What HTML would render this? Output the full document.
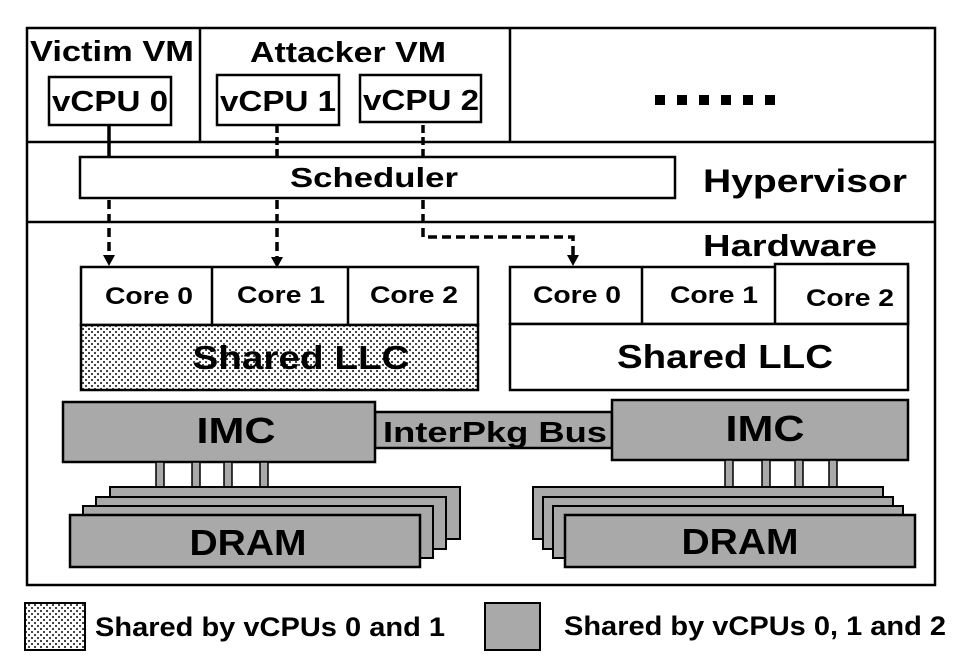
<!DOCTYPE html>
<html><head><meta charset="utf-8"><style>
html,body{margin:0;padding:0;background:#fff;}
svg{display:block}
text{font-family:"Liberation Sans",Arial,sans-serif;font-weight:bold;fill:#000}
</style></head><body>
<svg width="962" height="662" viewBox="0 0 962 662" xmlns="http://www.w3.org/2000/svg">
<defs>
<pattern id="dots" width="6" height="6" patternUnits="userSpaceOnUse">
<rect width="6" height="6" fill="#fff"/><circle cx="2" cy="2" r="1.1" fill="#333"/><circle cx="5" cy="5" r="1.1" fill="#333"/>
</pattern>
</defs>
<g stroke="#000" stroke-width="2.5" fill="none">
<rect x="27" y="28" width="908" height="557" fill="#fff"/>
<line x1="27" y1="142" x2="935" y2="142"/>
<line x1="27" y1="222" x2="935" y2="222"/>
<line x1="200" y1="28" x2="200" y2="142"/>
<line x1="510" y1="28" x2="510" y2="142"/>
<rect x="49" y="77" width="122" height="48" fill="#fff"/>
<rect x="217" y="75" width="122" height="50" fill="#fff"/>
<rect x="360" y="75" width="121" height="47" fill="#fff"/>
<line x1="109" y1="125" x2="109" y2="157" stroke-width="3.5"/>
<line x1="277" y1="125" x2="277" y2="157" stroke-dasharray="8,4" stroke-width="3.5"/>
<line x1="423" y1="125" x2="423" y2="157" stroke-dasharray="8,4" stroke-width="3.5"/>
<rect x="80" y="157" width="595" height="41" fill="#fff"/>
<path d="M109,200 V256" stroke-dasharray="9,5" stroke-width="3.5"/>
<path d="M277,200 V258" stroke-dasharray="9,5" stroke-width="3.5"/>
<path d="M423,200 V237 H573 V258" stroke-dasharray="9,5" stroke-width="3.5"/>
</g>
<g fill="#000">
<path d="M103,255 L115,255 L109,266 Z"/>
<path d="M271,257 L283,257 L277,268 Z"/>
<path d="M567,255 L579,255 L573,266 Z"/>
<rect x="655" y="95" width="10" height="10"/><rect x="677" y="95" width="10" height="10"/><rect x="699" y="95" width="10" height="10"/><rect x="721" y="95" width="10" height="10"/><rect x="743" y="95" width="10" height="10"/><rect x="765" y="95" width="10" height="10"/>
</g>
<g stroke="#000" stroke-width="2.5">
<rect x="81" y="267" width="397" height="58" fill="#fff"/>
<line x1="212" y1="267" x2="212" y2="325"/><line x1="348" y1="267" x2="348" y2="325"/>
<rect x="81" y="325" width="397" height="65" fill="url(#dots)"/>
<rect x="510" y="267" width="398" height="57" fill="#fff"/>
<line x1="642" y1="267" x2="642" y2="324"/>
<rect x="775" y="264" width="133" height="60" fill="#fff"/>
<rect x="510" y="324" width="398" height="66" fill="#fff"/>
<rect x="375" y="412" width="237" height="36" fill="#a9a9a9"/>
<rect x="63" y="402" width="312" height="60" fill="#a9a9a9"/>
<rect x="612" y="400" width="296" height="60" fill="#a9a9a9"/>
</g>
<g stroke="#000" stroke-width="1.5" fill="#a9a9a9">
<rect x="156" y="462" width="8" height="26"/><rect x="192" y="462" width="8" height="26"/><rect x="224" y="462" width="8" height="26"/><rect x="260" y="462" width="8" height="26"/>
<rect x="725" y="460" width="8" height="28"/><rect x="762" y="460" width="8" height="28"/><rect x="795" y="460" width="8" height="28"/><rect x="829" y="460" width="8" height="28"/>
<rect x="110" y="487" width="350" height="52" stroke-width="2"/>
<rect x="96" y="497" width="350" height="52" stroke-width="2"/>
<rect x="83" y="506" width="350" height="52" stroke-width="2"/>
<rect x="70" y="515" width="350" height="52" stroke-width="2.5"/>
<rect x="533" y="487" width="350" height="52" stroke-width="2"/>
<rect x="543" y="497" width="350" height="52" stroke-width="2"/>
<rect x="553" y="506" width="350" height="52" stroke-width="2"/>
<rect x="565" y="515" width="350" height="52" stroke-width="2.5"/>
<rect x="25" y="603" width="60" height="47" fill="url(#dots)" stroke-width="2"/>
<rect x="485" y="603" width="55" height="47" stroke-width="2"/>
</g>
<text x="112" y="61" font-size="29" text-anchor="middle" textLength="164" lengthAdjust="spacingAndGlyphs">Victim VM</text>
<text x="348" y="62" font-size="29" text-anchor="middle" textLength="196" lengthAdjust="spacingAndGlyphs">Attacker VM</text>
<text x="110" y="111" font-size="29" text-anchor="middle" textLength="116" lengthAdjust="spacingAndGlyphs">vCPU 0</text>
<text x="278" y="111" font-size="29" text-anchor="middle" textLength="116" lengthAdjust="spacingAndGlyphs">vCPU 1</text>
<text x="421" y="110" font-size="29" text-anchor="middle" textLength="116" lengthAdjust="spacingAndGlyphs">vCPU 2</text>
<text x="374" y="187" font-size="28" text-anchor="middle" textLength="168" lengthAdjust="spacingAndGlyphs">Scheduler</text>
<text x="805" y="192" font-size="32" text-anchor="middle" textLength="204" lengthAdjust="spacingAndGlyphs">Hypervisor</text>
<text x="790" y="256" font-size="31" text-anchor="middle" textLength="174" lengthAdjust="spacingAndGlyphs">Hardware</text>
<text x="149" y="304" font-size="24" text-anchor="middle" textLength="88" lengthAdjust="spacingAndGlyphs">Core 0</text>
<text x="281" y="303" font-size="24" text-anchor="middle" textLength="88" lengthAdjust="spacingAndGlyphs">Core 1</text>
<text x="414" y="303" font-size="24" text-anchor="middle" textLength="88" lengthAdjust="spacingAndGlyphs">Core 2</text>
<text x="577" y="303" font-size="24" text-anchor="middle" textLength="88" lengthAdjust="spacingAndGlyphs">Core 0</text>
<text x="714" y="303" font-size="24" text-anchor="middle" textLength="88" lengthAdjust="spacingAndGlyphs">Core 1</text>
<text x="850" y="306" font-size="24" text-anchor="middle" textLength="88" lengthAdjust="spacingAndGlyphs">Core 2</text>
<text x="301" y="369" font-size="33" text-anchor="middle" textLength="217" lengthAdjust="spacingAndGlyphs">Shared LLC</text>
<text x="725" y="368" font-size="33" text-anchor="middle" textLength="216" lengthAdjust="spacingAndGlyphs">Shared LLC</text>
<text x="236" y="443" font-size="36" text-anchor="middle" textLength="79" lengthAdjust="spacingAndGlyphs">IMC</text>
<text x="765" y="441" font-size="36" text-anchor="middle" textLength="79" lengthAdjust="spacingAndGlyphs">IMC</text>
<text x="495" y="442" font-size="29" text-anchor="middle" textLength="224" lengthAdjust="spacingAndGlyphs">InterPkg Bus</text>
<text x="248" y="555" font-size="36" text-anchor="middle" textLength="117" lengthAdjust="spacingAndGlyphs">DRAM</text>
<text x="740" y="554" font-size="36" text-anchor="middle" textLength="117" lengthAdjust="spacingAndGlyphs">DRAM</text>
<text x="95" y="636" font-size="27" textLength="350" lengthAdjust="spacingAndGlyphs">Shared by vCPUs 0 and 1</text>
<text x="564" y="635" font-size="27" textLength="382" lengthAdjust="spacingAndGlyphs">Shared by vCPUs 0, 1 and 2</text>
</svg>
</body></html>
